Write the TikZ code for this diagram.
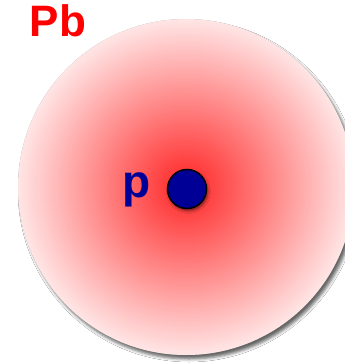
\documentclass[tikz,border=0pt]{standalone}
\usepackage{fontspec}
\setmainfont{Liberation Sans}
\usetikzlibrary{shadows.blur}
\definecolor{navy}{RGB}{0,0,150}
\tikzset{
  lbl/.style={font=\bfseries\fontsize{44}{44}\selectfont, inner sep=0pt, anchor=base},
}
\begin{document}
\begin{tikzpicture}[x=1pt,y=-1pt]
\useasboundingbox (0,0) rectangle (345,364);
\fill[white] (0,0) rectangle (345,364);
\coordinate (big) at (186,187);
% shadow of big circle
\fill[black!35, blur shadow={shadow xshift=3pt, shadow yshift=-4pt, shadow blur radius=3pt, shadow opacity=60}]
  (big) circle[radius=168];
% radial gradient as concentric discs
\foreach \r in {168,166,...,2} {
  \pgfmathsetmacro\p{86-0.45*\r}
  \fill[red!\p] (big) circle[radius=\r];
}
% proton
\node[circle, minimum size=39pt, inner sep=0pt, fill=navy, draw=black, line width=1.5pt,
  blur shadow={shadow xshift=1.5pt, shadow yshift=-2.5pt, shadow blur radius=2.5pt, shadow opacity=50}] (proton) at (187,189) {};
\node[lbl, text=navy, font=\bfseries\fontsize{46}{46}\selectfont] (plabel) at (137,197) {p};
\node[lbl, text=red] (pb) at (58,36) {Pb};
\end{tikzpicture}
\end{document}
